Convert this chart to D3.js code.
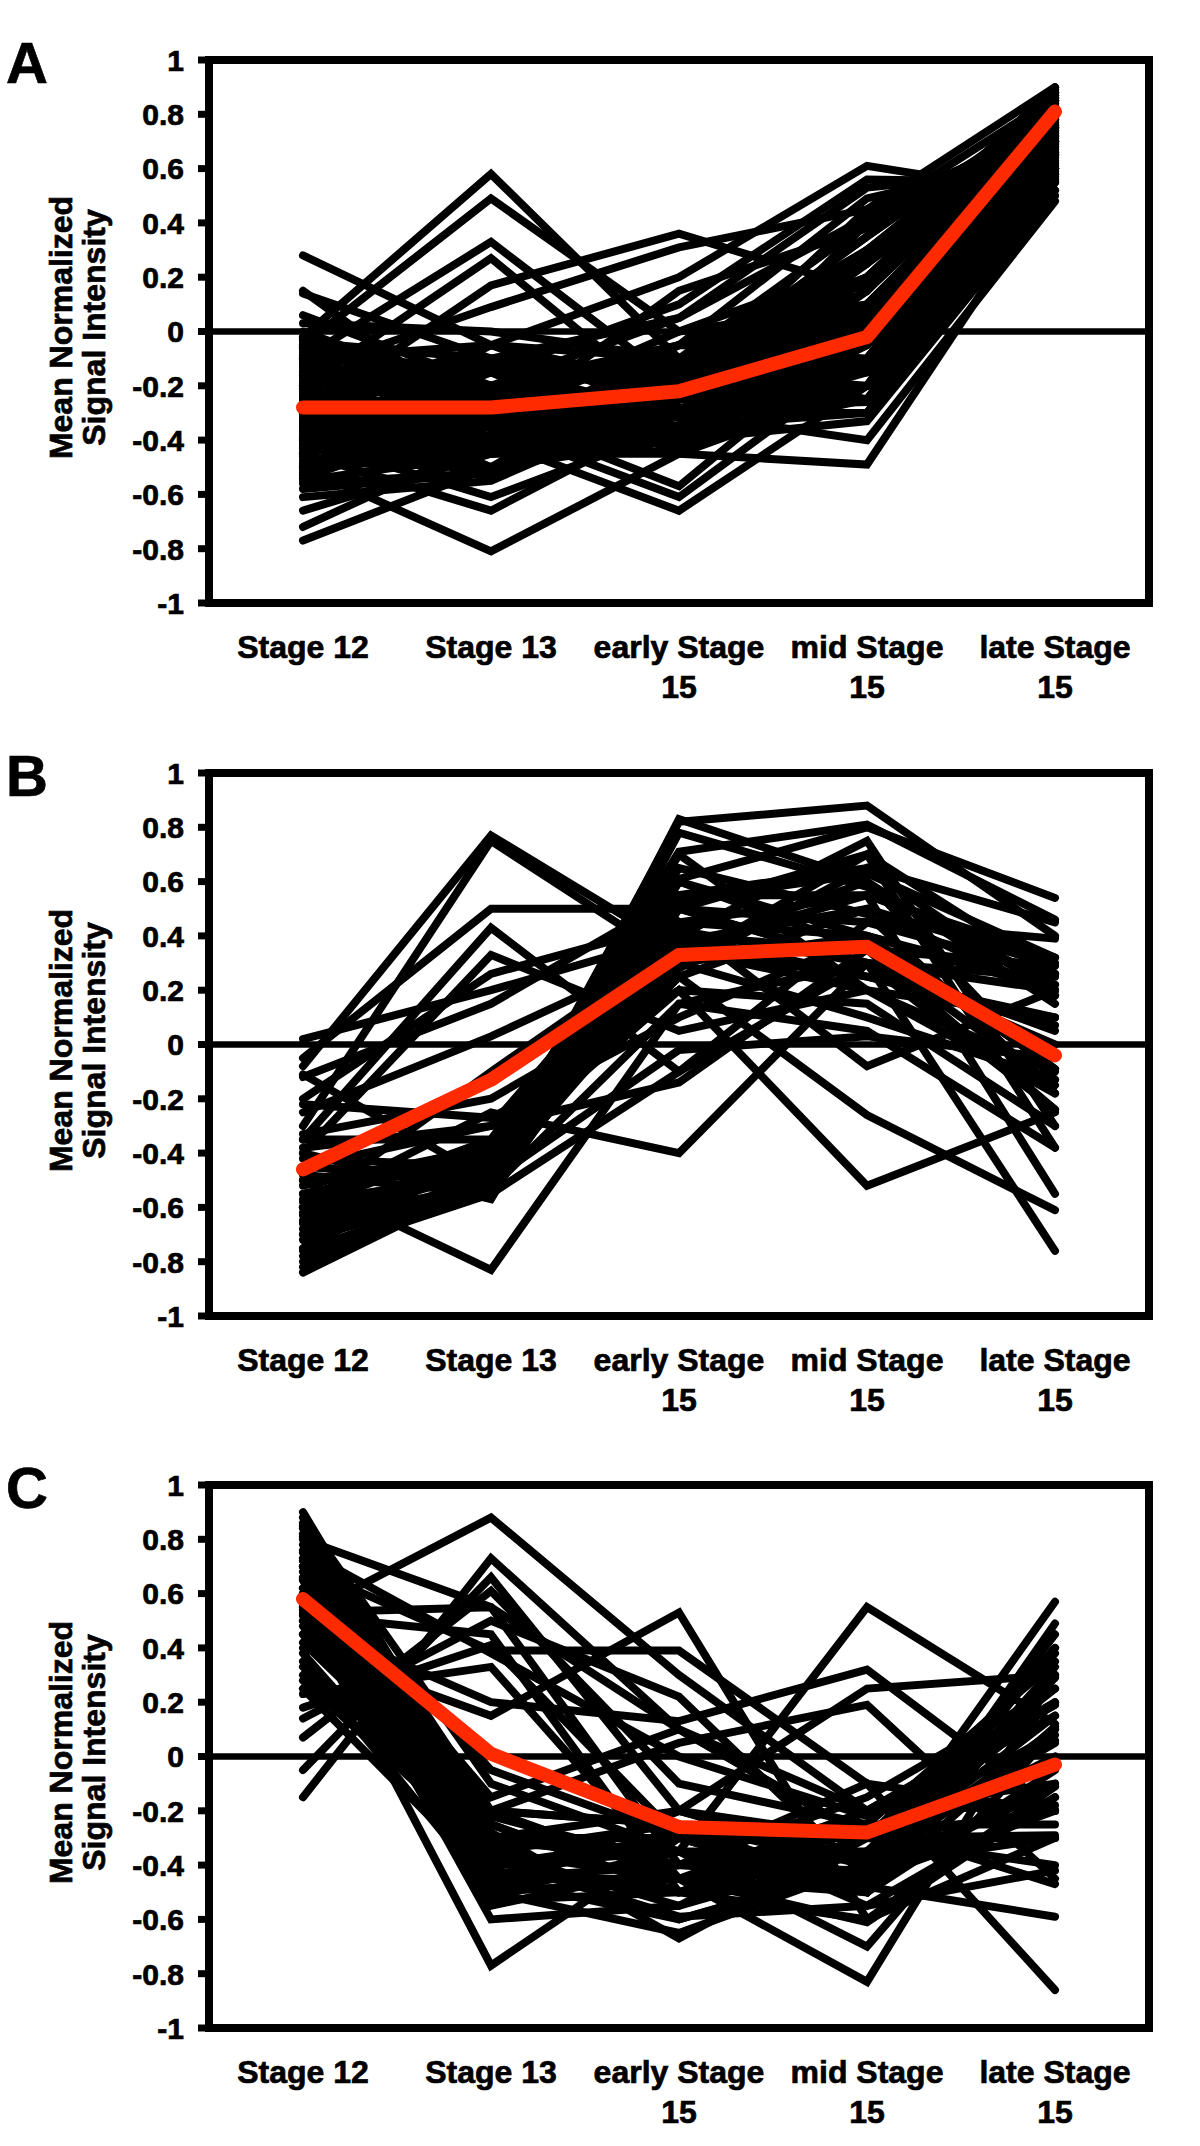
<!DOCTYPE html>
<html><head><meta charset="utf-8">
<script src="https://cdn.jsdelivr.net/npm/d3@7"></script>
<style>html,body{margin:0;padding:0;background:#fff;} svg{display:block;}</style>
</head><body>
<svg id="chart" width="1200" height="2146"></svg>
<script>
const categories = [["Stage 12"], ["Stage 13"], ["early Stage", "15"], ["mid Stage", "15"], ["late Stage", "15"]];
const yTicks = [1, 0.8, 0.6, 0.4, 0.2, 0, -0.2, -0.4, -0.6, -0.8, -1];
const yTickLabels = ["1", "0.8", "0.6", "0.4", "0.2", "0", "-0.2", "-0.4", "-0.6", "-0.8", "-1"];
const yTitle = ["Mean Normalized", "Signal Intensity"];
const panelLabels = ["A", "B", "C"];

const meanA = [-0.28, -0.28, -0.22, -0.02, 0.81];
const meanB = [-0.46, -0.13, 0.33, 0.36, -0.04];
const meanC = [0.58, 0.01, -0.26, -0.28, -0.03];

const genesA = [
  [0.28, -0.05, -0.3, -0.1, 0.7], [0.15, -0.35, -0.2, 0.0, 0.75], [0.14, -0.1, -0.25, 0.1, 0.6],
  [0.06, -0.2, -0.15, -0.2, 0.8], [0.03, 0.0, -0.1, 0.2, 0.85], [0.0, -0.25, -0.35, -0.1, 0.65],
  [-0.02, 0.58, -0.1, 0.2, 0.7], [-0.05, 0.49, 0.0, 0.1, 0.78], [-0.1, 0.33, -0.2, 0.05, 0.6],
  [-0.2, 0.27, -0.3, 0.3, 0.72], [-0.3, 0.17, 0.36, 0.15, 0.85], [-0.15, 0.09, 0.31, 0.45, 0.9],
  [-0.4, -0.05, 0.2, 0.61, 0.5], [-0.25, -0.15, 0.1, 0.56, 0.55], [-0.35, -0.2, 0.05, 0.53, 0.6],
  [-0.45, -0.3, -0.05, 0.49, 0.65], [-0.2, -0.35, 0.15, 0.38, 0.7], [-0.77, -0.5, -0.3, -0.1, 0.75],
  [-0.72, -0.4, -0.35, -0.05, 0.8], [-0.66, -0.45, -0.4, 0.0, 0.82], [-0.61, -0.55, -0.25, 0.05, 0.7],
  [-0.5, -0.81, -0.45, -0.2, 0.6], [-0.45, -0.66, -0.3, -0.15, 0.68], [-0.4, -0.61, -0.35, 0.1, 0.72],
  [-0.35, -0.54, -0.2, 0.2, 0.8], [-0.3, -0.4, -0.66, -0.2, 0.65], [-0.25, -0.35, -0.61, -0.1, 0.7],
  [-0.4, -0.3, -0.57, 0.0, 0.75], [-0.5, -0.45, -0.45, -0.49, 0.55], [-0.3, -0.25, -0.3, -0.4, 0.48],
  [-0.35, -0.3, -0.4, -0.33, 0.52], [-0.55, -0.45, -0.35, -0.2, 0.6], [-0.52, -0.35, -0.25, 0.05, 0.85],
  [-0.5, -0.3, -0.4, -0.25, 0.7], [-0.48, -0.5, -0.3, -0.05, 0.75], [-0.46, -0.2, -0.35, 0.15, 0.88],
  [-0.44, -0.4, -0.1, 0.0, 0.8], [-0.42, -0.25, -0.2, -0.15, 0.65], [-0.4, -0.45, -0.25, 0.25, 0.9],
  [-0.38, -0.35, -0.15, 0.3, 0.85], [-0.36, -0.15, -0.3, -0.3, 0.55], [-0.34, -0.4, -0.2, 0.1, 0.78],
  [-0.32, -0.3, -0.05, -0.1, 0.72], [-0.3, -0.45, -0.35, 0.2, 0.82], [-0.28, -0.1, -0.25, -0.2, 0.6],
  [-0.26, -0.35, -0.4, 0.05, 0.76], [-0.24, -0.3, 0.0, 0.25, 0.88], [-0.22, -0.2, -0.3, -0.25, 0.58],
  [-0.2, -0.45, -0.15, 0.35, 0.83], [-0.18, -0.25, -0.35, 0.0, 0.68], [-0.16, -0.4, -0.1, -0.1, 0.74],
  [-0.14, -0.15, -0.2, 0.15, 0.8], [-0.12, -0.3, -0.4, -0.05, 0.62], [-0.1, -0.35, -0.25, 0.3, 0.86],
  [-0.08, -0.2, -0.05, 0.1, 0.79], [-0.06, -0.45, -0.3, -0.2, 0.57], [-0.04, -0.1, -0.15, 0.2, 0.84],
  [-0.02, -0.3, -0.35, -0.15, 0.66], [-0.53, -0.2, -0.1, 0.05, 0.77], [-0.47, -0.5, -0.2, 0.3, 0.81],
  [-0.43, -0.15, -0.4, -0.1, 0.69], [-0.37, -0.25, -0.3, 0.15, 0.87], [-0.33, -0.5, -0.1, -0.25, 0.56],
  [-0.29, -0.4, -0.45, 0.0, 0.73], [-0.27, -0.05, -0.2, 0.25, 0.89], [-0.23, -0.35, -0.3, -0.3, 0.52],
  [-0.19, -0.45, -0.25, 0.1, 0.8], [-0.17, -0.2, -0.4, -0.05, 0.71], [-0.13, -0.3, -0.15, 0.35, 0.84],
  [-0.09, -0.4, -0.35, 0.05, 0.64], [-0.54, -0.3, -0.2, -0.15, 0.78], [-0.51, -0.4, -0.45, 0.1, 0.66],
  [-0.49, -0.25, -0.05, 0.2, 0.86], [-0.41, -0.5, -0.35, -0.3, 0.59], [-0.39, -0.1, -0.25, 0.0, 0.83],
  [-0.31, -0.35, -0.1, 0.3, 0.79], [-0.21, -0.5, -0.4, -0.2, 0.61], [-0.11, -0.25, -0.2, 0.15, 0.88],
  [-0.07, -0.15, -0.45, -0.1, 0.67], [-0.03, -0.4, -0.05, 0.25, 0.76], [-0.56, -0.52, -0.3, 0.4, 0.8],
  [-0.58, -0.52, -0.2, 0.45, 0.75], [-0.1, -0.05, -0.1, 0.4, 0.7], [-0.3, -0.1, 0.05, 0.42, 0.86],
  [-0.45, -0.12, -0.32, -0.12, 0.63], [-0.26, -0.42, -0.12, 0.18, 0.74], [-0.36, -0.22, -0.42, 0.08, 0.82],
  [-0.16, -0.32, -0.28, -0.26, 0.69], [-0.5, -0.38, -0.18, 0.28, 0.87], [-0.06, -0.26, -0.38, 0.02, 0.58]
];

const genesB = [
  [-0.08, 0.77, 0.35, 0.25, 0.1], [-0.3, 0.75, 0.3, 0.4, 0.2], [-0.05, 0.5, 0.5, 0.3, 0.05],
  [-0.35, 0.43, -0.1, 0.3, 0.25], [-0.4, 0.33, 0.05, 0.2, 0.1], [-0.2, 0.26, 0.45, 0.55, 0.3],
  [0.02, 0.2, 0.4, 0.35, -0.15], [-0.12, 0.15, 0.55, 0.65, 0.45], [-0.25, 0.03, 0.35, 0.2, -0.1],
  [-0.5, -0.83, 0.15, 0.3, 0.0], [-0.6, -0.25, -0.4, 0.3, 0.2], [-0.55, -0.4, 0.2, -0.52, -0.25],
  [-0.6, -0.45, 0.25, -0.26, -0.61], [-0.5, -0.4, 0.5, 0.3, -0.76], [-0.6, -0.35, 0.45, -0.08, 0.2],
  [-0.7, -0.5, -0.02, 0.03, -0.05], [-0.45, -0.3, -0.14, 0.35, 0.29], [-0.65, -0.55, -0.1, 0.45, 0.26],
  [-0.84, -0.5, 0.83, 0.6, 0.15], [-0.8, -0.45, 0.82, 0.88, 0.4], [-0.75, -0.4, 0.71, 0.81, 0.46],
  [-0.7, -0.35, 0.61, 0.8, 0.54], [-0.68, -0.5, 0.53, 0.63, 0.32], [-0.72, -0.52, 0.78, 0.58, 0.22],
  [-0.62, -0.45, 0.65, 0.48, -0.18], [-0.58, -0.48, 0.4, 0.75, -0.3], [-0.55, -0.42, 0.3, 0.7, -0.38],
  [-0.52, -0.38, 0.55, 0.55, -0.55], [-0.48, -0.55, 0.45, 0.4, -0.09], [-0.45, -0.5, 0.35, 0.6, -0.13],
  [-0.42, -0.45, 0.25, 0.5, 0.18], [-0.4, -0.57, 0.6, 0.35, -0.24], [-0.38, -0.3, 0.5, 0.45, 0.39],
  [-0.35, -0.35, 0.4, 0.25, 0.07], [-0.33, -0.2, 0.2, 0.15, -0.3], [-0.22, -0.27, 0.1, 0.4, 0.22],
  [-0.11, -0.5, 0.3, 0.1, -0.13], [-0.65, -0.4, 0.42, 0.3, -0.24], [-0.78, -0.55, 0.5, 0.7, 0.26],
  [-0.82, -0.48, 0.6, 0.4, -0.09], [-0.76, -0.52, 0.35, 0.55, 0.32], [-0.66, -0.46, 0.7, 0.2, -0.18],
  [-0.63, -0.53, 0.15, 0.05, -0.38], [-0.57, -0.36, 0.28, 0.65, 0.18], [-0.6, -0.1, 0.38, 0.5, 0.29]
];

const genesC = [
  [0.52, 0.88, 0.3, -0.2, -0.1], [0.4, 0.15, 0.53, -0.6, -0.3], [0.7, 0.39, 0.39, -0.1, -0.2],
  [0.62, -0.3, -0.35, 0.55, 0.12], [0.5, 0.2, 0.13, 0.32, -0.2], [0.45, -0.2, 0.05, 0.19, -0.45],
  [0.55, -0.45, -0.4, -0.1, -0.86], [0.6, -0.35, -0.45, -0.83, 0.3], [0.7, -0.5, -0.35, -0.7, 0.1],
  [0.55, -0.77, -0.3, -0.45, -0.2], [0.65, -0.6, -0.55, -0.35, 0.05], [-0.15, 0.73, 0.1, -0.3, -0.2],
  [-0.05, 0.66, -0.2, -0.4, 0.4], [0.07, 0.61, -0.1, -0.25, 0.35], [0.14, 0.5, 0.22, -0.45, -0.11],
  [0.18, 0.41, -0.3, -0.5, 0.49], [0.23, 0.33, -0.45, -0.35, 0.29], [0.3, -0.2, -0.25, -0.4, 0.57],
  [0.9, -0.25, -0.5, -0.3, 0.38], [0.85, -0.3, -0.4, -0.45, 0.33], [0.81, -0.35, -0.55, -0.2, 0.19],
  [0.78, -0.4, -0.3, -0.5, 0.11], [0.75, -0.45, -0.6, -0.4, 0.06], [0.73, -0.5, -0.45, -0.61, -0.15],
  [0.7, -0.28, -0.67, -0.3, -0.29], [0.68, -0.38, -0.59, -0.55, -0.42], [0.65, -0.42, -0.5, -0.25, -0.47],
  [0.62, -0.32, -0.35, -0.48, -0.59], [0.6, -0.22, -0.4, -0.15, 0.25], [0.57, -0.48, -0.2, -0.38, 0.15],
  [0.54, -0.53, -0.5, -0.6, -0.11], [0.5, -0.3, -0.3, -0.3, -0.3], [0.48, -0.45, -0.45, -0.2, 0.2],
  [0.45, -0.35, -0.25, -0.55, -0.15], [0.42, -0.25, -0.5, -0.35, 0.0], [0.38, -0.4, -0.35, -0.45, 0.45],
  [0.35, -0.5, -0.2, -0.3, -0.2], [0.33, -0.2, -0.45, -0.5, 0.3], [0.28, -0.35, -0.6, -0.4, 0.1],
  [0.25, -0.45, -0.3, -0.25, -0.25], [0.88, -0.1, -0.35, -0.35, 0.2], [0.84, -0.2, -0.25, -0.5, -0.05],
  [0.8, 0.55, -0.4, -0.42, -0.1], [0.76, 0.38, 0.0, -0.22, 0.15], [0.72, -0.05, -0.3, -0.3, 0.25],
  [0.66, -0.15, 0.1, -0.2, -0.18], [0.58, -0.55, -0.4, -0.28, 0.08], [0.52, 0.45, -0.5, -0.45, 0.4],
  [0.86, -0.5, -0.65, -0.4, -0.3], [0.82, -0.3, -0.2, 0.25, 0.3], [0.53, 0.55, 0.1, -0.3, -0.4]
];

const panels = [
  {label: panelLabels[0], genes: genesA, mean: meanA, top: 60},
  {label: panelLabels[1], genes: genesB, mean: meanB, top: 773},
  {label: panelLabels[2], genes: genesC, mean: meanC, top: 1485}
];

const svg = d3.select("#chart");
const plotLeft = 209, plotRight = 1149, plotH = 543;
const font = "'Liberation Sans', Arial, Helvetica, sans-serif";
const x = d3.scaleBand().domain(d3.range(categories.length)).range([plotLeft, plotRight]).padding(0);
const xc = i => x(i) + x.bandwidth() / 2;

function boldText(sel) {
  return sel.attr("font-family", font).attr("font-weight", "bold").attr("fill", "#000")
    .attr("stroke", "#000").attr("stroke-width", 0.7).attr("paint-order", "stroke");
}

panels.forEach(p => {
  const y = d3.scaleLinear().domain([-1, 1]).range([p.top + plotH, p.top]);
  const g = svg.append("g");

  // zero line (category axis)
  g.append("line").attr("x1", plotLeft).attr("x2", plotRight)
    .attr("y1", y(0)).attr("y2", y(0)).attr("stroke", "#000").attr("stroke-width", 6.5);

  const line = d3.line().x((d, i) => xc(i)).y(d => y(d));
  g.append("g").selectAll("path").data(p.genes).join("path")
    .attr("d", line).attr("fill", "none").attr("stroke", "#000")
    .attr("stroke-width", 8).attr("stroke-linejoin", "miter").attr("stroke-miterlimit", 3)
    .attr("stroke-linecap", "round");

  g.append("path").datum(p.mean).attr("d", line).attr("fill", "none")
    .attr("stroke", "#ff2a00").attr("stroke-width", 14)
    .attr("stroke-linejoin", "round").attr("stroke-linecap", "round");

  // frame
  g.append("rect").attr("x", plotLeft).attr("y", p.top).attr("width", plotRight - plotLeft)
    .attr("height", plotH).attr("fill", "none").attr("stroke", "#000").attr("stroke-width", 8);

  // y axis ticks and labels
  const ya = g.append("g");
  ya.selectAll("line").data(yTicks).join("line")
    .attr("x1", plotLeft - 11).attr("x2", plotLeft).attr("y1", d => y(d)).attr("y2", d => y(d))
    .attr("stroke", "#000").attr("stroke-width", 7);
  boldText(ya.selectAll("text").data(yTicks).join("text")
    .attr("x", 184).attr("y", d => y(d)).attr("dy", "0.36em")
    .attr("text-anchor", "end").attr("font-size", 30))
    .text((d, i) => yTickLabels[i]);

  // x labels
  const xl = g.append("g");
  categories.forEach((lines, i) => {
    const t = boldText(xl.append("text").attr("x", xc(i)).attr("y", p.top + plotH + 55)
      .attr("text-anchor", "middle").attr("font-size", 32));
    lines.forEach((s, j) => t.append("tspan").attr("x", xc(i)).attr("dy", j === 0 ? 0 : 40).text(s));
  });

  // y title
  const cy = p.top + plotH / 2 - 4;
  yTitle.forEach((s, j) => {
    boldText(g.append("text").attr("transform", `translate(${72 + j * 33},${cy}) rotate(-90)`)
      .attr("text-anchor", "middle").attr("font-size", 32)).text(s);
  });

  // panel label
  boldText(g.append("text").attr("x", 6).attr("y", p.top + 23)
    .attr("font-size", 58)).text(p.label);
});
</script>
</body></html>
